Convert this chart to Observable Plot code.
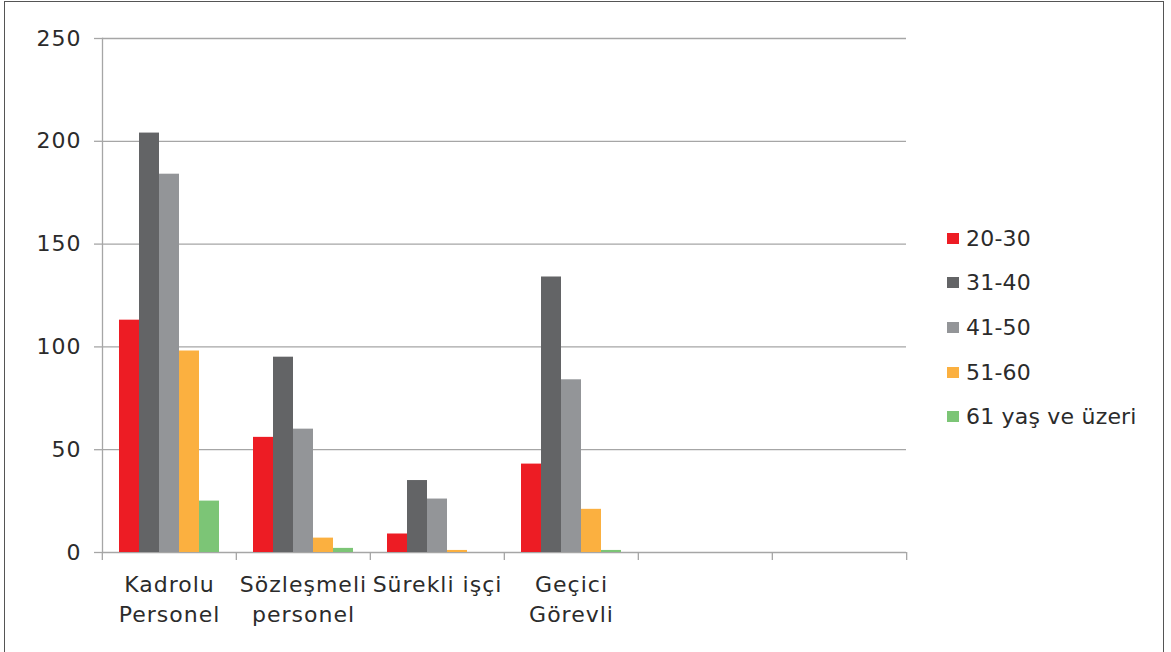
<!DOCTYPE html>
<html>
<head>
<meta charset="utf-8">
<script src="https://cdn.jsdelivr.net/npm/d3@7"></script>
<script src="https://cdn.jsdelivr.net/npm/@observablehq/plot@0.6"></script>
<style>
  html, body { margin: 0; padding: 0; background: #fff; }
  #wrap { position: relative; width: 1171px; height: 652px; overflow: hidden; font-family: "DejaVu Sans", sans-serif; color: #2b2b2b; }
  #border { position: absolute; left: 4px; top: 1px; width: 1160px; height: 700px; border: 1.5px solid #555; box-sizing: border-box; }
  #chart { position: absolute; left: 0; top: 0; }
  #chart svg text { letter-spacing: 1px; }
  #legend { position: absolute; left: 947px; top: 216px; }
  .row { height: 44.6px; display: flex; align-items: center; font-size: 22px; letter-spacing: 0.2px; white-space: nowrap; }
  .sw { width: 12px; height: 11px; margin-right: 7px; }
</style>
</head>
<body>
<div id="wrap">
  <div id="border"></div>
  <div id="chart"></div>
  <div id="legend"></div>
</div>
<script>
// ---- data ----
const categories = ["Kadrolu Personel", "Sözleşmeli personel", "Sürekli işçi", "Geçici Görevli"];
const emptySlots = ["empty-1", "empty-2"];
const categoryLabels = ["Kadrolu\nPersonel", "Sözleşmeli\npersonel", "Sürekli işçi", "Geçici\nGörevli", "", ""];
const series = ["20-30", "31-40", "41-50", "51-60", "61 yaş ve üzeri"];
const v20_30 = [113, 56, 9, 43, null, null];
const v31_40 = [204, 95, 35, 134, null, null];
const v41_50 = [184, 60, 26, 84, null, null];
const v51_60 = [98, 7, 1, 21, null, null];
const v61plus = [25, 2, 0, 1, null, null];
const seriesColors = ["#ED1C24", "#636466", "#939598", "#FBB040", "#7CC576"];
const yTicks = [0, 50, 100, 150, 200, 250];

// ---- build table ----
const seriesValues = [v20_30, v31_40, v41_50, v51_60, v61plus];
const slots = [...categories, ...emptySlots];
const rows = slots.flatMap((c, i) => series.map((s, j) => ({category: c, series: s, value: seriesValues[j][i]})));
const labelOf = new Map(slots.map((s, i) => [s, categoryLabels[i]]));

const W = 1171, H = 652, mL = 101, mR = 264, mT = 38, mB = 100;
const bw = (W - mL - mR) / slots.length;
const axisColor = "#a6a6a6";
const textColor = "#2b2b2b";

const chart = Plot.plot({
  width: W, height: H,
  marginLeft: mL, marginRight: mR, marginTop: mT, marginBottom: mB,
  style: {fontFamily: "DejaVu Sans, sans-serif", color: textColor, background: "transparent"},
  fx: {domain: slots, padding: 0, axis: null},
  x: {domain: series, paddingInner: 0, paddingOuter: 0.73, axis: null},
  y: {domain: [0, 250], axis: null},
  color: {domain: series, range: seriesColors},
  marks: [
    Plot.gridY({ticks: yTicks, stroke: axisColor, strokeOpacity: 1, strokeWidth: 1.3}),
    Plot.frame({anchor: "left", facetAnchor: "left", stroke: axisColor, strokeWidth: 1.3}),
    Plot.barY(rows, {fx: "category", x: "series", y: "value", fill: "series"}),
    Plot.axisY({ticks: yTicks, tickSize: 8, tickPadding: 13, fontSize: 22, stroke: axisColor, strokeWidth: 1.3, strokeOpacity: 1, fill: textColor, label: null}),
    Plot.axisFx({anchor: "bottom", text: null, tickSize: 8, dx: -bw / 2, stroke: axisColor, strokeWidth: 1.3, strokeOpacity: 1, label: null}),
    Plot.axisFx({anchor: "bottom", ticks: [slots[slots.length - 1]], text: null, tickSize: 8, dx: bw / 2, stroke: axisColor, strokeWidth: 1.3, strokeOpacity: 1, label: null}),
    Plot.axisFx({anchor: "bottom", tickSize: 0, tickPadding: 18, fontSize: 22, lineHeight: 1.36, fill: textColor, tickFormat: (d) => labelOf.get(d), label: null})
  ]
});
document.getElementById("chart").appendChild(chart);

// ---- legend ----
const legend = document.getElementById("legend");
series.forEach((s, i) => {
  const row = document.createElement("div");
  row.className = "row";
  const sw = document.createElement("div");
  sw.className = "sw";
  sw.style.background = seriesColors[i];
  const t = document.createElement("span");
  t.textContent = s;
  row.appendChild(sw);
  row.appendChild(t);
  legend.appendChild(row);
});
</script>
</body>
</html>
